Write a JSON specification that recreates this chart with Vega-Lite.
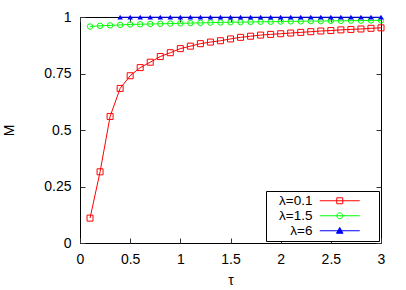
{
  "$schema": "https://vega.github.io/schema/vega-lite/v6.json",
  "width": 301,
  "height": 226,
  "autosize": {"type": "none"},
  "padding": {"left": 80, "top": 17, "right": 25, "bottom": 47},
  "config": {
    "font": "Liberation Sans",
    "view": {"stroke": "black", "strokeWidth": 1},
    "axis": {"domain": false, "grid": false, "tickColor": "#333", "tickSize": -5, "labelFontSize": 14, "labelColor": "black", "titleFontSize": 14, "titleFontWeight": "normal", "titleColor": "black", "labelFont": "Liberation Sans", "titleFont": "Liberation Sans"}
  },
  "data": {"values": [
    {"tau": 0.1, "M": 0.11, "s": "λ=0.1"},
    {"tau": 0.2, "M": 0.315, "s": "λ=0.1"},
    {"tau": 0.3, "M": 0.56, "s": "λ=0.1"},
    {"tau": 0.4, "M": 0.684, "s": "λ=0.1"},
    {"tau": 0.5, "M": 0.74, "s": "λ=0.1"},
    {"tau": 0.6, "M": 0.776, "s": "λ=0.1"},
    {"tau": 0.7, "M": 0.8, "s": "λ=0.1"},
    {"tau": 0.8, "M": 0.825, "s": "λ=0.1"},
    {"tau": 0.9, "M": 0.842, "s": "λ=0.1"},
    {"tau": 1.0, "M": 0.86, "s": "λ=0.1"},
    {"tau": 1.1, "M": 0.871, "s": "λ=0.1"},
    {"tau": 1.2, "M": 0.882, "s": "λ=0.1"},
    {"tau": 1.3, "M": 0.889, "s": "λ=0.1"},
    {"tau": 1.4, "M": 0.895, "s": "λ=0.1"},
    {"tau": 1.5, "M": 0.903, "s": "λ=0.1"},
    {"tau": 1.6, "M": 0.91, "s": "λ=0.1"},
    {"tau": 1.7, "M": 0.915, "s": "λ=0.1"},
    {"tau": 1.8, "M": 0.92, "s": "λ=0.1"},
    {"tau": 1.9, "M": 0.923, "s": "λ=0.1"},
    {"tau": 2.0, "M": 0.926, "s": "λ=0.1"},
    {"tau": 2.1, "M": 0.929, "s": "λ=0.1"},
    {"tau": 2.2, "M": 0.932, "s": "λ=0.1"},
    {"tau": 2.3, "M": 0.935, "s": "λ=0.1"},
    {"tau": 2.4, "M": 0.938, "s": "λ=0.1"},
    {"tau": 2.5, "M": 0.94, "s": "λ=0.1"},
    {"tau": 2.6, "M": 0.943, "s": "λ=0.1"},
    {"tau": 2.7, "M": 0.945, "s": "λ=0.1"},
    {"tau": 2.8, "M": 0.947, "s": "λ=0.1"},
    {"tau": 2.9, "M": 0.95, "s": "λ=0.1"},
    {"tau": 3.0, "M": 0.952, "s": "λ=0.1"},
    {"tau": 0.1, "M": 0.958, "s": "λ=1.5"},
    {"tau": 0.2, "M": 0.961, "s": "λ=1.5"},
    {"tau": 0.3, "M": 0.963, "s": "λ=1.5"},
    {"tau": 0.4, "M": 0.965, "s": "λ=1.5"},
    {"tau": 0.5, "M": 0.967, "s": "λ=1.5"},
    {"tau": 0.6, "M": 0.968, "s": "λ=1.5"},
    {"tau": 0.7, "M": 0.969, "s": "λ=1.5"},
    {"tau": 0.8, "M": 0.97, "s": "λ=1.5"},
    {"tau": 0.9, "M": 0.971, "s": "λ=1.5"},
    {"tau": 1.0, "M": 0.972, "s": "λ=1.5"},
    {"tau": 1.1, "M": 0.973, "s": "λ=1.5"},
    {"tau": 1.2, "M": 0.974, "s": "λ=1.5"},
    {"tau": 1.3, "M": 0.975, "s": "λ=1.5"},
    {"tau": 1.4, "M": 0.976, "s": "λ=1.5"},
    {"tau": 1.5, "M": 0.977, "s": "λ=1.5"},
    {"tau": 1.6, "M": 0.977, "s": "λ=1.5"},
    {"tau": 1.7, "M": 0.978, "s": "λ=1.5"},
    {"tau": 1.8, "M": 0.979, "s": "λ=1.5"},
    {"tau": 1.9, "M": 0.979, "s": "λ=1.5"},
    {"tau": 2.0, "M": 0.98, "s": "λ=1.5"},
    {"tau": 2.1, "M": 0.981, "s": "λ=1.5"},
    {"tau": 2.2, "M": 0.981, "s": "λ=1.5"},
    {"tau": 2.3, "M": 0.982, "s": "λ=1.5"},
    {"tau": 2.4, "M": 0.982, "s": "λ=1.5"},
    {"tau": 2.5, "M": 0.983, "s": "λ=1.5"},
    {"tau": 2.6, "M": 0.983, "s": "λ=1.5"},
    {"tau": 2.7, "M": 0.984, "s": "λ=1.5"},
    {"tau": 2.8, "M": 0.984, "s": "λ=1.5"},
    {"tau": 2.9, "M": 0.985, "s": "λ=1.5"},
    {"tau": 3.0, "M": 0.985, "s": "λ=1.5"},
    {"tau": 0.4, "M": 0.999, "s": "λ=6"},
    {"tau": 0.5, "M": 0.999, "s": "λ=6"},
    {"tau": 0.6, "M": 0.999, "s": "λ=6"},
    {"tau": 0.7, "M": 0.999, "s": "λ=6"},
    {"tau": 0.8, "M": 0.999, "s": "λ=6"},
    {"tau": 0.9, "M": 0.999, "s": "λ=6"},
    {"tau": 1.0, "M": 0.999, "s": "λ=6"},
    {"tau": 1.1, "M": 0.999, "s": "λ=6"},
    {"tau": 1.2, "M": 0.999, "s": "λ=6"},
    {"tau": 1.3, "M": 0.999, "s": "λ=6"},
    {"tau": 1.4, "M": 0.999, "s": "λ=6"},
    {"tau": 1.5, "M": 0.999, "s": "λ=6"},
    {"tau": 1.6, "M": 0.999, "s": "λ=6"},
    {"tau": 1.7, "M": 0.999, "s": "λ=6"},
    {"tau": 1.8, "M": 0.999, "s": "λ=6"},
    {"tau": 1.9, "M": 0.999, "s": "λ=6"},
    {"tau": 2.0, "M": 0.999, "s": "λ=6"},
    {"tau": 2.1, "M": 0.999, "s": "λ=6"},
    {"tau": 2.2, "M": 0.999, "s": "λ=6"},
    {"tau": 2.3, "M": 0.999, "s": "λ=6"},
    {"tau": 2.4, "M": 0.999, "s": "λ=6"},
    {"tau": 2.5, "M": 0.999, "s": "λ=6"},
    {"tau": 2.6, "M": 0.999, "s": "λ=6"},
    {"tau": 2.7, "M": 0.999, "s": "λ=6"},
    {"tau": 2.8, "M": 0.999, "s": "λ=6"},
    {"tau": 2.9, "M": 0.999, "s": "λ=6"},
    {"tau": 3.0, "M": 0.999, "s": "λ=6"}
  ]},
  "resolve": {"axis": {"x": "independent", "y": "independent"}},
  "layer": [
    {
      "mark": {"type": "line", "strokeWidth": 1},
      "encoding": {
        "x": {"field": "tau", "type": "quantitative", "scale": {"domain": [0, 3], "nice": false, "zero": false}, "axis": {"values": [0, 0.5, 1, 1.5, 2, 2.5, 3], "format": ".1~f", "title": "τ", "labelPadding": 14, "titlePadding": 7, "labelFlush": false}},
        "y": {"field": "M", "type": "quantitative", "scale": {"domain": [0, 1], "nice": false}, "axis": {"values": [0, 0.25, 0.5, 0.75, 1], "format": ".2~f", "title": "M", "labelPadding": 14, "titlePadding": 27, "titleAngle": -90}},
        "color": {"field": "s", "type": "nominal", "scale": {"domain": ["λ=0.1", "λ=1.5", "λ=6"], "range": ["#ff0000", "#00ff00", "#0000ff"]},
          "legend": {"title": null, "orient": "bottom-right", "offset": 2, "strokeColor": "black", "fillColor": "white", "cornerRadius": 0, "padding": 3, "labelFontSize": 13.5, "labelFont": "Liberation Sans", "labelColor": "black", "labelAlign": "right", "labelOffset": 30, "symbolSize": 100, "symbolStrokeWidth": 1, "rowPadding": 0,
            "encode": {"symbols": {"update": {
              "shape": {"signal": "datum.value === 'λ=0.1' ? 'M8.8,0H16.8M12.2,-0.6H13.4V0.6H12.2ZM19.6,0' : datum.value === 'λ=1.5' ? 'M8.8,0H16.8M12.2,0A0.6,0.6 0 1,0 13.4,0A0.6,0.6 0 1,0 12.2,0ZM19.6,0' : 'M8.8,0H16.8M12.8,-0.65L13.45,0.5L12.15,0.5ZM19.6,0'"},
              "fill": {"signal": "datum.value === 'λ=6' ? '#0000ff' : 'transparent'"},
              "strokeWidth": {"value": 1}
            }}}
          }}
      }
    },
    {
      "transform": [{"filter": "datum.s === 'λ=0.1'"}],
      "mark": {"type": "point", "shape": "square", "filled": false, "color": "#ff0000", "strokeWidth": 1, "size": 36, "opacity": 1},
      "encoding": {
        "x": {"field": "tau", "type": "quantitative", "axis": null},
        "y": {"field": "M", "type": "quantitative", "axis": null}
      }
    },
    {
      "transform": [{"filter": "datum.s === 'λ=1.5'"}],
      "mark": {"type": "point", "shape": "circle", "filled": false, "color": "#00ff00", "strokeWidth": 1, "size": 30, "opacity": 1},
      "encoding": {
        "x": {"field": "tau", "type": "quantitative", "axis": null},
        "y": {"field": "M", "type": "quantitative", "axis": null}
      }
    },
    {
      "transform": [{"filter": "datum.s === 'λ=6'"}],
      "mark": {"type": "point", "shape": "triangle-up", "filled": true, "color": "#0000ff", "size": 30, "opacity": 1},
      "encoding": {
        "x": {"field": "tau", "type": "quantitative", "axis": null},
        "y": {"field": "M", "type": "quantitative", "axis": null}
      }
    },
    {
      "mark": {"type": "point", "opacity": 0},
      "encoding": {
        "x": {"field": "tau", "type": "quantitative", "axis": {"orient": "top", "values": [0, 0.5, 1, 1.5, 2, 2.5, 3], "labels": false, "title": null}},
        "y": {"field": "M", "type": "quantitative", "axis": {"orient": "right", "values": [0, 0.25, 0.5, 0.75, 1], "labels": false, "title": null}}
      }
    }
  ]
}
